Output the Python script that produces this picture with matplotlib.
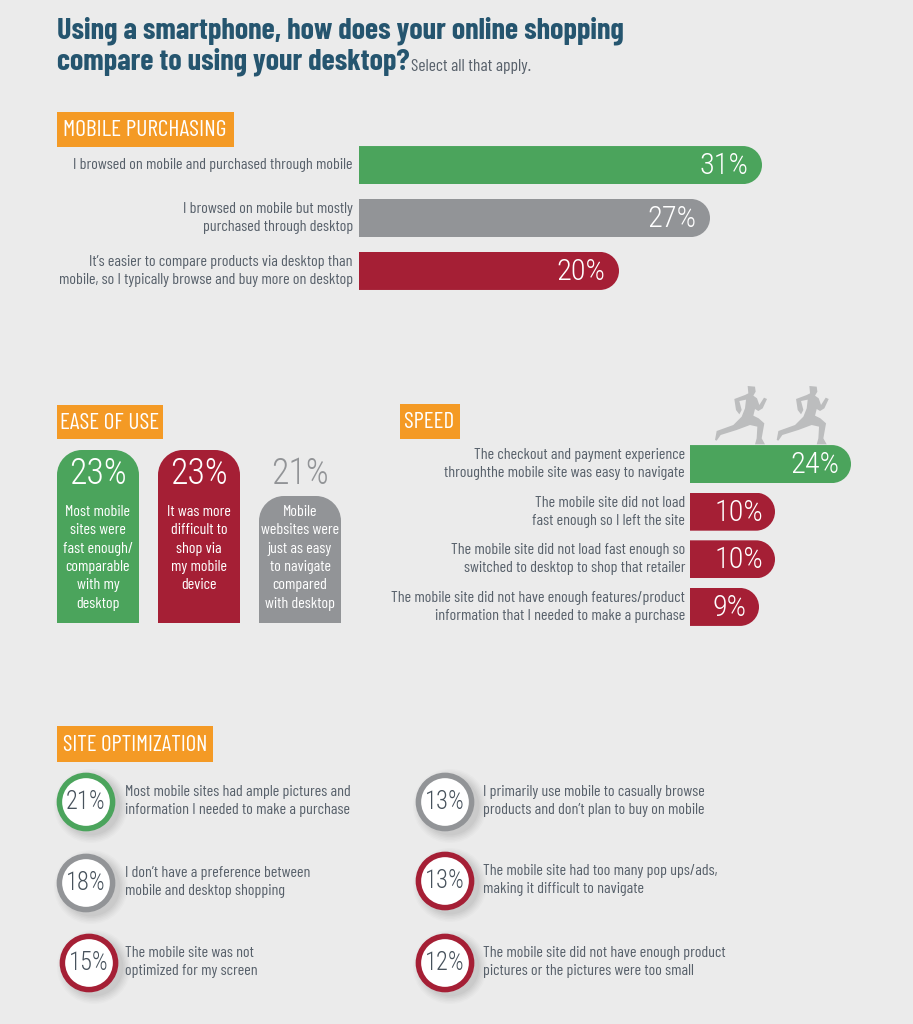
import numpy as np
import matplotlib
matplotlib.use("Agg")
import matplotlib.pyplot as plt
from matplotlib.patches import Rectangle, Circle, PathPatch, Polygon
from matplotlib.path import Path
from matplotlib.textpath import TextPath
from matplotlib import font_manager as fm

TITLE_1 = "Using a smartphone, how does your online shopping"
TITLE_2 = "compare to using your desktop?"
SUBTITLE = "Select all that apply."

purchase_labels = ["I browsed on mobile and purchased through mobile",
                   "I browsed on mobile but mostly\npurchased through desktop",
                   "It\u2019s easier to compare products via desktop than\nmobile, so I typically browse and buy more on desktop"]
purchase_values = [31, 27, 20]
ease_labels = ["Most mobile\nsites were\nfast enough/\ncomparable\nwith my\ndesktop",
               "It was more\ndifficult to\nshop via\nmy mobile\ndevice",
               "Mobile\nwebsites were\njust as easy\nto navigate\ncompared\nwith desktop"]
ease_values = [23, 23, 21]
speed_labels = ["The checkout and payment experience\nthroughthe mobile site was easy to navigate",
                "The mobile site did not load\nfast enough so I left the site",
                "The mobile site did not load fast enough so\nswitched to desktop to shop that retailer",
                "The mobile site did not have enough features/product\ninformation that I needed to make a purchase"]
speed_values = [24, 10, 10, 9]
site_left_labels = ["Most mobile sites had ample pictures and\ninformation I needed to make a purchase",
                    "I don\u2019t have a preference between\nmobile and desktop shopping",
                    "The mobile site was not\noptimized for my screen"]
site_left_values = [21, 18, 15]
site_right_labels = ["I primarily use mobile to casually browse\nproducts and don\u2019t plan to buy on mobile",
                     "The mobile site had too many pop ups/ads,\nmaking it difficult to navigate",
                     "The mobile site did not have enough product\npictures or the pictures were too small"]
site_right_values = [13, 13, 12]

GREEN, GREY, RED = "#4ba45c", "#929497", "#a51f35"
ORANGE, BG, NAVY, TXT = "#f49a25", "#ebebeb", "#25556f", "#57606a"


def wt(f):
    return int(f.weight) if str(f.weight).isdigit() else {"bold": 700, "normal": 400, "regular": 400}.get(f.weight, 400)


def find(fam, lo, hi):
    for f in fm.fontManager.ttflist:
        if f.name == fam and f.style == "normal" and lo <= wt(f) <= hi:
            return fm.FontProperties(fname=f.fname)
    return fm.FontProperties(family="Liberation Sans", weight=hi if hi >= 600 else 400)


F_REG = find("Barlow Condensed", 400, 400)
F_BOLD = find("Barlow Condensed", 600, 700)
F_NUM = find("Roboto Condensed", 250, 340)


def ext(s, fp):
    return TextPath((0, 0), s, size=100, prop=fp).get_extents()


def fit(s, fp, width_px):
    return 100 * width_px / ext(s, fp).width * 72 / 100


S_BODY = fit(purchase_labels[0], F_REG, 278)
S_SUB = fit(SUBTITLE, F_REG, 119)
S_TITLE = fit(TITLE_1, F_BOLD, 566)
S_BIG = fit("31%", F_NUM, 46)
S_EASE = fit("23%", F_NUM, 54)
S_RING = fit("21%", F_NUM, 37)
LS_BODY = 19.0 / (ext("l", F_REG).height / 100 * S_BODY * 100 / 72) * 19 / 23

W, H = 913, 1024
fig = plt.figure(figsize=(W / 100, H / 100), dpi=100, facecolor=BG)


def px_axes(z):
    a = fig.add_axes([0, 0, 1, 1], zorder=z)
    a.set_xlim(0, W); a.set_ylim(H, 0); a.axis("off"); a.patch.set_alpha(0)
    return a


bg = px_axes(0)
fg = px_axes(5)


def sub_axes(x0, y0, x1, y1):
    ax = fig.add_axes([x0 / W, 1 - y1 / H, (x1 - x0) / W, (y1 - y0) / H], zorder=2)
    ax.axis("off")
    ax.patch.set_alpha(0)
    return ax


def label(a, x, y, s, size, font=None, color=TXT, ha="left", va="center", ls=None):
    return a.text(x, y, s, fontproperties=(font or F_REG).copy(), fontsize=size, color=color,
                  ha=ha, va=va, linespacing=ls or LS_BODY)


def tag(x0, y0, x1, y1, s, tx, tw):
    bg.add_patch(Rectangle((x0, y0), x1 - x0, y1 - y0, fc=ORANGE, ec="none"))
    label(bg, tx, (y0 + y1) / 2 + 1.5, s, fit(s, F_REG, tw), F_REG, "white")


def round_right(x0, y0, x1, y1, r):
    k = 0.5523 * r
    v = [(x0, y0), (x1 - r, y0), (x1 - r + k, y0), (x1, y0 + r - k), (x1, y0 + r),
         (x1, y1 - r), (x1, y1 - r + k), (x1 - r + k, y1), (x1 - r, y1), (x0, y1), (x0, y0)]
    c = [Path.MOVETO, Path.LINETO, Path.CURVE4, Path.CURVE4, Path.CURVE4, Path.LINETO,
         Path.CURVE4, Path.CURVE4, Path.CURVE4, Path.LINETO, Path.CLOSEPOLY]
    return Path(v, c)


def round_top(x0, y0, x1, y1, r):
    k = 0.5523 * r
    v = [(x0, y1), (x0, y0 + r), (x0, y0 + r - k), (x0 + r - k, y0), (x0 + r, y0),
         (x1 - r, y0), (x1 - r + k, y0), (x1, y0 + r - k), (x1, y0 + r), (x1, y1), (x0, y1)]
    c = [Path.MOVETO, Path.LINETO, Path.CURVE4, Path.CURVE4, Path.CURVE4, Path.LINETO,
         Path.CURVE4, Path.CURVE4, Path.CURVE4, Path.LINETO, Path.CLOSEPOLY]
    return Path(v, c)


def clip_bar(rect, maker, r):
    box = rect.get_window_extent(fig.canvas.get_renderer())
    inv = bg.transData.inverted()
    (xa, ya), (xb, yb) = inv.transform([(box.x0, box.y0), (box.x1, box.y1)])
    p = PathPatch(maker(min(xa, xb), min(ya, yb), max(xa, xb), max(ya, yb), r), transform=bg.transData)
    rect.set_clip_path(p)


def px(ax, x, y):
    return bg.transData.inverted().transform(ax.transData.transform((x, y)))


# ---- title
label(bg, 57, 31, TITLE_1, S_TITLE, F_BOLD, NAVY)
label(bg, 57, 62, TITLE_2, S_TITLE, F_BOLD, NAVY)
label(bg, 411, 66, SUBTITLE, S_SUB, F_REG, TXT)

# ---- mobile purchasing
tag(57, 112, 234, 147, "MOBILE PURCHASING", 63, 160)
ax = sub_axes(359, 146, 359 + 13 * 40, 290)
ax.set_xlim(0, 40); ax.set_ylim(2.36, -0.36)
for i, (lab, val, col) in enumerate(zip(purchase_labels, purchase_values, [GREEN, GREY, RED])):
    rect = ax.barh(i, val, height=38 / 52.9, color=col)[0]
    clip_bar(rect, round_right, 19)
    xe, yc = px(ax, val, i)
    label(fg, xe - 14, yc + 1, f"{val}%", S_BIG, F_NUM, "white", ha="right")
    xs, _ = px(ax, 0, i)
    label(fg, xs - 6, yc, lab, S_BODY, F_REG, TXT, ha="right")

# ---- ease of use
tag(57, 405, 163, 439, "EASE OF USE", 60, 97)
ax = sub_axes(57, 450, 341, 623)
ax.set_xlim(-0.5 * 82 / 101, 2 + 0.5 * 82 / 101)
ax.set_yscale("function", functions=(lambda v: np.interp(v, [0, 21, 23], [0, 127, 173]),
                                     lambda p: np.interp(p, [0, 127, 173], [0, 21, 23])))
ax.set_ylim(0, 23)
for i, (lab, val, col) in enumerate(zip(ease_labels, ease_values, [GREEN, RED, GREY])):
    rect = ax.bar(i, val, width=82 / 101, color=col)[0]
    clip_bar(rect, round_top, 25)
    cx, _ = px(ax, i, 0)
    label(fg, cx, 474, f"{val}%", S_EASE, F_NUM, "white" if col != GREY else GREY, ha="center")
    label(fg, cx, 505, lab, S_BODY, F_REG, "white", ha="center", va="top")

# ---- speed
tag(400, 404, 460, 439, "SPEED", 404, 48)
ax = sub_axes(690, 445, 890, 626)
ax.set_xscale("function", functions=(lambda v: np.interp(v, [0, 9, 10, 24, 30], [0, 69, 85, 161, 200]),
                                     lambda p: np.interp(p, [0, 69, 85, 161, 200], [0, 9, 10, 24, 30])))
ax.set_xlim(0, 30); ax.set_ylim(3.4, -0.4)
for i, (lab, val) in enumerate(zip(speed_labels, speed_values)):
    col = GREEN if i == 0 else RED
    rect = ax.barh(i, val, height=38 / 47.67, color=col)[0]
    clip_bar(rect, round_right, 19)
    xe, yc = px(ax, val, i)
    label(fg, xe - 12, yc + 1, f"{val}%", S_BIG, F_NUM, "white", ha="right")
    xs, _ = px(ax, 0, i)
    label(fg, xs - 5, yc, lab, S_BODY, F_REG, TXT, ha="right")

# runners (decorative silhouettes, as in the reference)
RUNNER = np.array([(143, 33), (165, 35), (167, 50), (160, 62), (171, 70), (178, 90), (192, 68), (201, 72),
                   (188, 100), (175, 108), (165, 102), (160, 122), (176, 130), (193, 145), (185, 190),
                   (195, 208), (165, 208), (170, 190), (172, 155), (150, 150), (110, 165), (62, 180),
                   (50, 197), (45, 195), (50, 168), (100, 150), (125, 125), (135, 100), (138, 74),
                   (118, 78), (125, 105), (118, 118), (108, 105), (103, 72), (135, 60), (145, 55)], float) / 3
for ox in (700, 761.7):
    bg.add_patch(Polygon(RUNNER + [ox, 375], closed=True, fc="#bcbdbe", ec="none"))

# ---- site optimization
tag(57, 726, 213, 762, "SITE OPTIMIZATION", 63, 142)


def ring(cx, cy, val, col, lab, tx):
    for g, a in [(8, .025), (6.5, .03), (5, .035), (3.5, .04), (2, .045), (0.5, .05)]:
        bg.add_patch(Circle((cx + 5, cy + 4), 29 + g, fc="#555555", ec="none", alpha=a))
    bg.add_patch(Circle((cx, cy), 26.6, fc="white", ec=col, lw=3.95))
    label(bg, cx, cy, f"{val}%", S_RING, F_NUM, "#47525c", ha="center")
    label(bg, tx, cy - 1, lab, S_BODY, F_REG, TXT)


left_pos = [(86, 802), (86, 883), (89, 963)]
for (c, v, l, col) in zip(left_pos, site_left_values, site_left_labels, [GREEN, GREY, RED]):
    ring(c[0], c[1], v, col, l, 125)
right_pos = [(445, 802), (445, 881), (445, 963)]
for (c, v, l, col) in zip(right_pos, site_right_values, site_right_labels, [GREY, RED, RED]):
    ring(c[0], c[1], v, col, l, 483)

fig.savefig("out.png", dpi=100, facecolor=BG)
